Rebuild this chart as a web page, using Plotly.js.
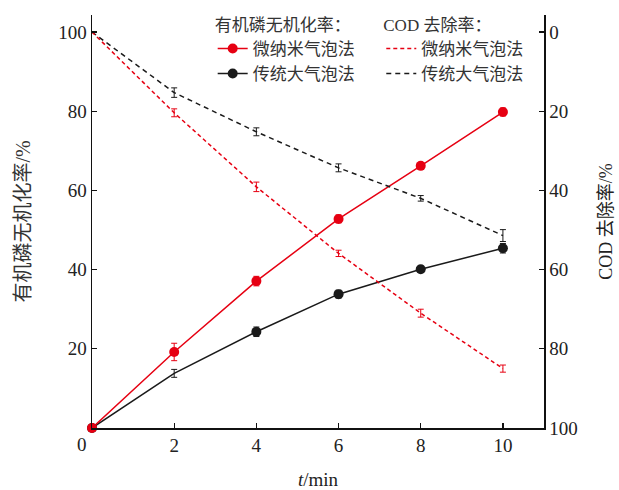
<!DOCTYPE html>
<html>
<head>
<meta charset="utf-8">
<script src="https://cdn.plot.ly/plotly-3.0.1.min.js"></script>
<style>
  html, body { margin: 0; padding: 0; background: #fff; }
  #chart { width: 619px; height: 490px; }
</style>
</head>
<body>
<div id="chart"></div>
<script>
// Sampling times (min)
const t = [0, 2, 4, 6, 8, 10];

// Organic phosphorus mineralization rate (%) — left axis
const minNano = [0, 19.2, 37.1, 52.8, 66.2, 79.8];
const minNanoErr = [0, 2.2, 1.2, 1.0, 0.8, 1.0];
const minConv = [0, 13.8, 24.3, 33.8, 40.1, 45.4];
const minConvErr = [0, 1.0, 1.2, 1.0, 0.8, 1.2];

// COD removal rate (%) — right axis, reversed
const codNano = [0, 20.4, 39.1, 55.9, 71.0, 85.0];
const codNanoErr = [0, 1.0, 1.2, 0.8, 1.0, 0.9];
const codConv = [0, 15.3, 25.2, 34.3, 42.0, 51.4];
const codConvErr = [0, 1.2, 1.0, 1.0, 0.7, 1.5];

// Series names and axis labels
const nameNano = '微纳米气泡法';
const nameConv = '传统大气泡法';
const legendTitleMin = '有机磷无机化率：';
const legendTitleCod = 'COD 去除率：';
const yLeftTitle = '有机磷无机化率/%';
const yRightTitle = 'COD 去除率/%';
const xTitle = '<i>t</i>/min';
const xTicks = [2, 4, 6, 8, 10];
const yLeftTicks = [20, 40, 60, 80, 100];
const yRightTicks = [0, 20, 40, 60, 80, 100];

const RED = '#e60012';
const BLACK = '#1a1a1a';
const SERIF = '"Liberation Serif", "Times New Roman", serif';
const MIXED = '"Liberation Serif", "Noto Sans CJK SC", serif';

function err(arr, color) {
  return { type: 'data', array: arr, visible: true, color: color, thickness: 1, width: 3 };
}

// the conventional series has no dot drawn at t = 2, only its error bar
const convDotColors = t.map(v => (v === 2 ? 'rgba(0,0,0,0)' : BLACK));

const traces = [
  {
    x: t, y: minConv, name: nameConv, type: 'scatter', mode: 'lines+markers',
    line: { color: BLACK, width: 1.5 },
    marker: { color: convDotColors, size: 10 },
    error_y: err(minConvErr, BLACK), cliponaxis: false,
    legend: 'legend', legendrank: 2, yaxis: 'y'
  },
  {
    x: t, y: minNano, name: nameNano, type: 'scatter', mode: 'lines+markers',
    line: { color: RED, width: 1.5 },
    marker: { color: RED, size: 10 },
    error_y: err(minNanoErr, RED), cliponaxis: false,
    legend: 'legend', legendrank: 1, yaxis: 'y'
  },
  {
    x: t, y: codConv, name: nameConv, type: 'scatter', mode: 'lines',
    line: { color: BLACK, width: 1.5, dash: '5px,4px' },
    error_y: err(codConvErr, BLACK),
    legend: 'legend2', legendrank: 2, yaxis: 'y2'
  },
  {
    x: t, y: codNano, name: nameNano, type: 'scatter', mode: 'lines',
    line: { color: RED, width: 1.5, dash: '4px,3px' },
    error_y: err(codNanoErr, RED),
    legend: 'legend2', legendrank: 1, yaxis: 'y2'
  }
];

const legendCommon = {
  bgcolor: 'rgba(0,0,0,0)',
  font: { family: MIXED, size: 17, color: '#333' },
  xanchor: 'left', yanchor: 'top',
  tracegroupgap: 0, itemwidth: 30,
  traceorder: 'normal'
};

const layout = {
  width: 619, height: 490,
  margin: { l: 92, r: 75, t: 15, b: 62, autoexpand: false },
  paper_bgcolor: '#fff', plot_bgcolor: '#fff',
  showlegend: true,
  font: { family: SERIF, size: 19, color: '#222' },
  xaxis: {
    range: [0, 11], tickvals: xTicks, ticks: 'inside', ticklen: 5, tickwidth: 1.2,
    tickcolor: '#111', showline: true, linecolor: '#111', linewidth: 1.5,
    showgrid: false, zeroline: false,
    tickfont: { family: SERIF, size: 19, color: '#222' },
    title: { text: xTitle, font: { family: SERIF, size: 19, color: '#222' }, standoff: 20 }
  },
  yaxis: {
    range: [0, 104.3], tickvals: yLeftTicks, ticks: 'inside', ticklen: 5, tickwidth: 1.2,
    tickcolor: '#111', showline: true, linecolor: '#111', linewidth: 1.5,
    showgrid: false, zeroline: false,
    tickfont: { family: SERIF, size: 19, color: '#222' },
    title: { text: yLeftTitle, font: { family: MIXED, size: 20, color: '#333' }, standoff: 22 }
  },
  yaxis2: {
    overlaying: 'y', side: 'right',
    range: [100, -4.3], tickvals: yRightTicks, ticks: 'inside', ticklen: 5, tickwidth: 1.2,
    tickcolor: '#111', showline: true, linecolor: '#111', linewidth: 1.5,
    showgrid: false, zeroline: false,
    tickfont: { family: SERIF, size: 19, color: '#222' },
    title: { text: yRightTitle, font: { family: MIXED, size: 18, color: '#222' }, standoff: 22 }
  },
  legend: Object.assign({}, legendCommon, {
    x: 0.267, y: 1.015,
    title: { text: legendTitleMin, font: { family: MIXED, size: 17, color: '#333' } }
  }),
  legend2: Object.assign({}, legendCommon, {
    x: 0.64, y: 1.015,
    title: { text: legendTitleCod, font: { family: MIXED, size: 17, color: '#333' } }
  }),
  annotations: [
    { x: 0, y: 0, xref: 'x', yref: 'y', text: '0', showarrow: false,
      xshift: -10, yshift: -16, font: { family: SERIF, size: 19, color: '#222' } }
  ]
};

Plotly.newPlot('chart', traces, layout, { displayModeBar: false, staticPlot: true });
</script>
</body>
</html>
